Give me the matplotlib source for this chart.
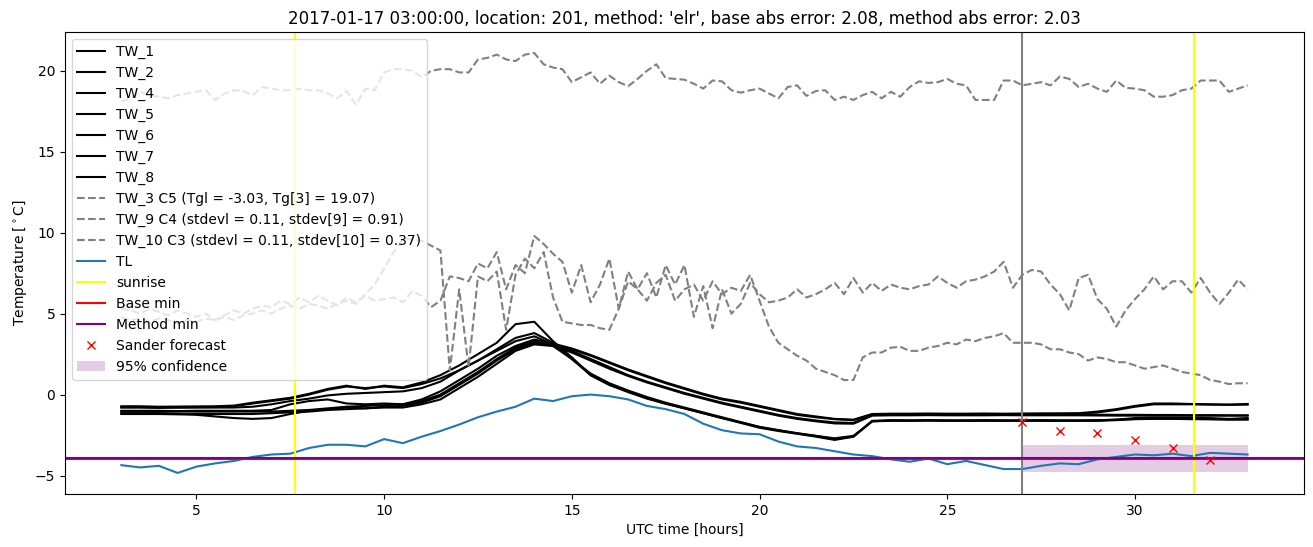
import matplotlib
matplotlib.use('Agg')
import matplotlib.pyplot as plt
import numpy as np

# time grids (hours UTC)
t_fine = np.arange(3, 33.01, 0.25)
t_half = np.arange(3, 33.01, 0.5)

# black TW sensors (0.5 h grid)
tw_1 = [-0.72, -0.72, -0.75, -0.74, -0.73, -0.72, -0.68, -0.5, -0.35, -0.2,
        0.05, 0.35, 0.55, 0.35, 0.55, 0.45, 0.75, 1.2, 1.8, 2.5,
        3.2, 4.35, 4.5, 3.3, 2.3, 1.2, 0.6, 0.15, -0.25, -0.57,
        -0.85, -1.15, -1.45, -1.72, -2.0, -2.2, -2.38, -2.55, -2.75, -2.6,
        -1.65, -1.6, -1.6, -1.6, -1.6, -1.62, -1.6, -1.6, -1.62, -1.6,
        -1.6, -1.62, -1.6, -1.55, -1.45, -1.42, -1.42, -1.45, -1.45, -1.5, -1.45]
tw_2 = [-0.8, -0.8, -0.82, -0.8, -0.8, -0.8, -0.8, -0.75, -0.6, -0.4,
        -0.25, -0.05, 0.05, 0.1, 0.15, 0.2, 0.4, 0.8, 1.5, 2.1,
        2.7, 3.3, 3.6, 3.1, 2.7, 2.2, 1.7, 1.2, 0.8, 0.45,
        0.1, -0.2, -0.5, -0.75, -1.0, -1.25, -1.45, -1.6, -1.72, -1.75,
        -1.25, -1.22, -1.22, -1.2, -1.22, -1.22, -1.2, -1.22, -1.22, -1.2,
        -1.22, -1.22, -1.24, -1.25, -1.25, -1.26, -1.26, -1.27, -1.27, -1.28, -1.28]
tw_4 = [-0.78, -0.78, -0.8, -0.8, -0.78, -0.77, -0.72, -0.55, -0.4, -0.25,
        0.0, 0.3, 0.5, 0.4, 0.5, 0.4, 0.65, 1.0, 1.5, 2.1,
        2.8, 3.5, 3.8, 3.2, 2.2, 1.2, 0.6, 0.2, -0.2, -0.55,
        -0.85, -1.15, -1.45, -1.75, -2.05, -2.25, -2.42, -2.6, -2.8, -2.6,
        -1.62, -1.58, -1.6, -1.58, -1.6, -1.6, -1.58, -1.6, -1.6, -1.58,
        -1.6, -1.6, -1.58, -1.55, -1.5, -1.48, -1.5, -1.5, -1.52, -1.52, -1.5]
tw_5 = [-1.0, -1.0, -1.0, -1.02, -1.0, -1.0, -1.0, -1.0, -0.95, -0.6,
        -0.4, -0.3, -0.55, -0.6, -0.55, -0.6, -0.3, 0.2, 0.9, 1.6,
        2.4, 3.0, 3.4, 3.15, 2.85, 2.45, 2.0, 1.55, 1.15, 0.75,
        0.4, 0.05, -0.25, -0.45, -0.7, -0.95, -1.2, -1.35, -1.5, -1.55,
        -1.2, -1.18, -1.18, -1.17, -1.18, -1.18, -1.17, -1.18, -1.17, -1.16,
        -1.16, -1.15, -1.05, -0.9, -0.7, -0.55, -0.55, -0.58, -0.6, -0.62, -0.58]
tw_6 = [-1.05, -1.05, -1.06, -1.05, -1.05, -1.05, -1.05, -1.05, -1.05, -1.0,
        -0.95, -0.85, -0.75, -0.7, -0.65, -0.6, -0.4, 0.0, 0.7, 1.4,
        2.2, 2.9, 3.3, 3.0, 2.6, 2.1, 1.6, 1.15, 0.75, 0.4,
        0.05, -0.25, -0.55, -0.8, -1.05, -1.3, -1.5, -1.65, -1.78, -1.8,
        -1.3, -1.28, -1.28, -1.27, -1.28, -1.28, -1.28, -1.27, -1.28, -1.28,
        -1.28, -1.28, -1.29, -1.3, -1.3, -1.3, -1.3, -1.31, -1.3, -1.3, -1.3]
tw_7 = [-1.15, -1.15, -1.15, -1.2, -1.25, -1.35, -1.45, -1.5, -1.45, -1.2,
        -1.0, -0.9, -0.8, -0.85, -0.75, -0.7, -0.5, -0.1, 0.6, 1.3,
        2.1, 2.8, 3.2, 3.1, 2.8, 2.4, 1.95, 1.5, 1.1, 0.7,
        0.35, 0.0, -0.3, -0.5, -0.75, -1.0, -1.25, -1.4, -1.52, -1.58,
        -1.22, -1.2, -1.2, -1.21, -1.2, -1.2, -1.2, -1.21, -1.2, -1.2,
        -1.19, -1.18, -1.1, -0.95, -0.75, -0.6, -0.6, -0.6, -0.62, -0.63, -0.62]
tw_8 = [-1.2, -1.2, -1.2, -1.22, -1.2, -1.2, -1.2, -1.2, -1.15, -1.1,
        -1.05, -0.95, -0.9, -0.85, -0.8, -0.8, -0.6, -0.3, 0.4, 1.1,
        1.9, 2.7, 3.1, 3.0, 2.2, 1.3, 0.7, 0.25, -0.15, -0.5,
        -0.8, -1.1, -1.4, -1.7, -2.0, -2.2, -2.4, -2.55, -2.7, -2.55,
        -1.65, -1.62, -1.62, -1.6, -1.62, -1.6, -1.62, -1.62, -1.6, -1.62,
        -1.62, -1.6, -1.62, -1.58, -1.52, -1.5, -1.5, -1.52, -1.52, -1.55, -1.55]

# gray dashed sensors (0.25 h grid)
tw_3 = [18.1, 18.3, 18.7, 18.5, 18.4, 18.3, 18.5, 18.6, 18.7, 18.8, 18.2, 18.6,
        18.8, 18.75, 18.5, 19.0, 18.9, 18.8, 18.8, 18.9, 18.8, 18.8, 18.6, 18.3,
        18.75, 17.9, 18.9, 18.8, 19.9, 20.1, 20.1, 20.0, 19.6, 20.0, 20.1, 20.1,
        19.9, 19.9, 20.7, 20.8, 21.0, 20.7, 20.6, 21.0, 21.1, 20.4, 20.2, 20.1,
        19.3, 19.6, 19.9, 19.2, 19.7, 19.3, 19.05, 19.5, 20.0, 20.4, 19.55, 19.5,
        19.45, 19.2, 18.9, 19.4, 19.35, 18.8, 18.65, 18.8, 18.9, 18.6, 18.3, 19.0,
        19.1, 18.45, 18.75, 18.8, 18.2, 18.4, 18.2, 18.5, 18.7, 18.3, 18.7, 18.4,
        19.0, 19.35, 19.25, 19.3, 19.5, 19.2, 19.1, 18.2, 18.2, 18.2, 19.4, 19.4,
        19.1, 19.2, 19.3, 19.1, 19.65, 19.5, 19.0, 19.2, 18.9, 18.7, 19.4, 18.95,
        18.9, 18.8, 18.4, 18.4, 18.5, 18.8, 18.9, 19.4, 19.4, 19.4, 18.7, 18.9,
        19.1]
tw_9 = [5.3, 5.2, 5.0, 5.3, 5.1, 4.9, 5.2, 5.0, 4.8, 5.0, 4.6, 4.9,
        5.2, 5.0, 5.3, 5.5, 5.4, 5.8, 5.6, 6.0, 5.7, 6.1, 5.8, 5.5,
        6.0, 5.7, 6.1, 5.8, 5.9, 6.0, 5.7, 6.4, 6.1, 5.4, 5.8, 7.3,
        7.2, 7.0, 8.1, 7.8, 8.8, 6.5, 8.0, 7.5, 9.8, 9.3, 8.7, 8.2,
        6.3, 8.0, 5.7, 6.8, 8.4, 5.3, 7.6, 6.5, 7.5, 6.0, 8.0, 6.8,
        8.0, 4.8, 6.7, 4.1, 6.5, 5.0, 5.6, 6.9, 6.2, 5.7, 5.8, 6.0,
        6.5, 6.0, 6.2, 6.5, 6.9, 6.2, 7.2, 6.3, 6.9, 6.4, 6.8, 6.6,
        6.5, 6.7, 6.8, 7.3, 6.9, 6.6, 7.0, 7.1, 7.3, 7.6, 8.2, 6.6,
        7.4, 7.7, 7.6, 6.8, 6.2, 5.2, 7.2, 7.4, 5.9, 5.3, 4.2, 5.2,
        5.9, 6.5, 7.3, 6.5, 7.0, 7.0, 6.3, 7.2, 6.3, 5.6, 6.3, 7.1,
        6.5]
tw_10 = [4.8, 4.6, 4.7, 4.5, 4.7, 4.6, 4.4, 4.6, 4.5, 4.7, 4.6, 4.8,
         4.6, 4.9, 5.0, 5.2, 5.0, 5.3, 5.5, 5.3, 5.6, 5.5, 5.3, 5.6,
         5.8, 5.6, 6.2, 6.8, 7.8, 8.8, 9.6, 9.6, 9.5, 9.2, 8.9, 1.5,
         6.5, 1.7, 7.3, 7.0, 7.6, 4.0, 7.4, 8.4, 7.8, 8.8, 6.0, 4.5,
         4.4, 4.3, 4.3, 4.1, 4.0, 5.3, 7.0, 6.5, 5.8, 6.9, 7.4, 5.8,
         6.5, 6.8, 5.8, 7.0, 6.2, 6.6, 6.4, 7.4, 5.8, 4.2, 3.2, 2.8,
         2.4, 2.1, 1.6, 1.4, 1.2, 0.9, 0.9, 2.3, 2.6, 2.6, 2.9, 2.95,
         2.7, 2.7, 2.9, 3.0, 3.2, 3.1, 3.4, 3.3, 3.5, 3.6, 3.8, 3.2,
         3.2, 3.2, 3.1, 2.8, 2.8, 2.6, 2.5, 2.1, 2.3, 2.2, 2.0, 2.0,
         1.8, 1.6, 1.7, 1.8, 1.6, 1.4, 1.3, 1.2, 0.9, 0.8, 0.65, 0.7,
         0.7]

# air temperature TL (0.5 h grid)
tl = [-4.36, -4.5, -4.4, -4.84, -4.45, -4.25, -4.1, -3.85, -3.7, -3.65,
      -3.3, -3.1, -3.1, -3.2, -2.75, -3.0, -2.6, -2.25, -1.85, -1.4,
      -1.05, -0.75, -0.25, -0.4, -0.1, 0.0, -0.1, -0.3, -0.7, -0.9,
      -1.2, -1.8, -2.2, -2.4, -2.45, -2.9, -3.2, -3.3, -3.5, -3.7,
      -3.8, -4.0, -4.15, -3.95, -4.3, -4.1, -4.35, -4.6, -4.6, -4.4,
      -4.25, -4.3, -4.0, -3.85, -3.7, -3.75, -3.65, -3.8, -3.6, -3.65, -3.7]

sunrise = [7.63, 31.58]
forecast_time = 27.0
base_min = -3.98
method_min = -3.9
sander_t = [27, 28, 29, 30, 31, 32]
sander_y = [-1.72, -2.24, -2.39, -2.83, -3.32, -4.01]
conf_t = [27, 33]
conf_low = -4.79
conf_high = -3.12

black = {'TW_1': tw_1, 'TW_2': tw_2, 'TW_4': tw_4, 'TW_5': tw_5,
         'TW_6': tw_6, 'TW_7': tw_7, 'TW_8': tw_8}
gray = [('TW_3 C5 (Tgl = -3.03, Tg[3] = 19.07)', tw_3),
        ('TW_9 C4 (stdevl = 0.11, stdev[9] = 0.91)', tw_9),
        ('TW_10 C3 (stdevl = 0.11, stdev[10] = 0.37)', tw_10)]

fig, ax = plt.subplots(figsize=(13.13, 5.47), dpi=100)
fig.subplots_adjust(left=0.0495, right=0.9931, top=0.9415, bottom=0.097)

for name, vals in black.items():
    ax.plot(t_half, vals, color='black', label=name)
for name, vals in gray:
    ax.plot(t_fine, vals, color='gray', linestyle='--', label=name)
ax.plot(t_half, tl, color='tab:blue', label='TL')

ax.axvline(sunrise[0], color='yellow', label='sunrise')
ax.axvline(sunrise[1], color='yellow')
ax.axvline(forecast_time, color='gray')
ax.axhline(base_min, color='red', label='Base min')
ax.axhline(method_min, color='purple', label='Method min')
ax.plot(sander_t, sander_y, 'x', color='red', linestyle='none', label='Sander forecast')
ax.fill_between(conf_t, conf_low, conf_high, color='purple', alpha=0.2,
                linewidth=0, label='95% confidence')

ax.set_title("2017-01-17 03:00:00, location: 201, method: 'elr', "
             "base abs error: 2.08, method abs error: 2.03")
ax.set_xlabel('UTC time [hours]')
ax.set_ylabel(r'Temperature [$^\circ$C]')
ax.legend(loc='upper left')

plt.savefig('out.png')
